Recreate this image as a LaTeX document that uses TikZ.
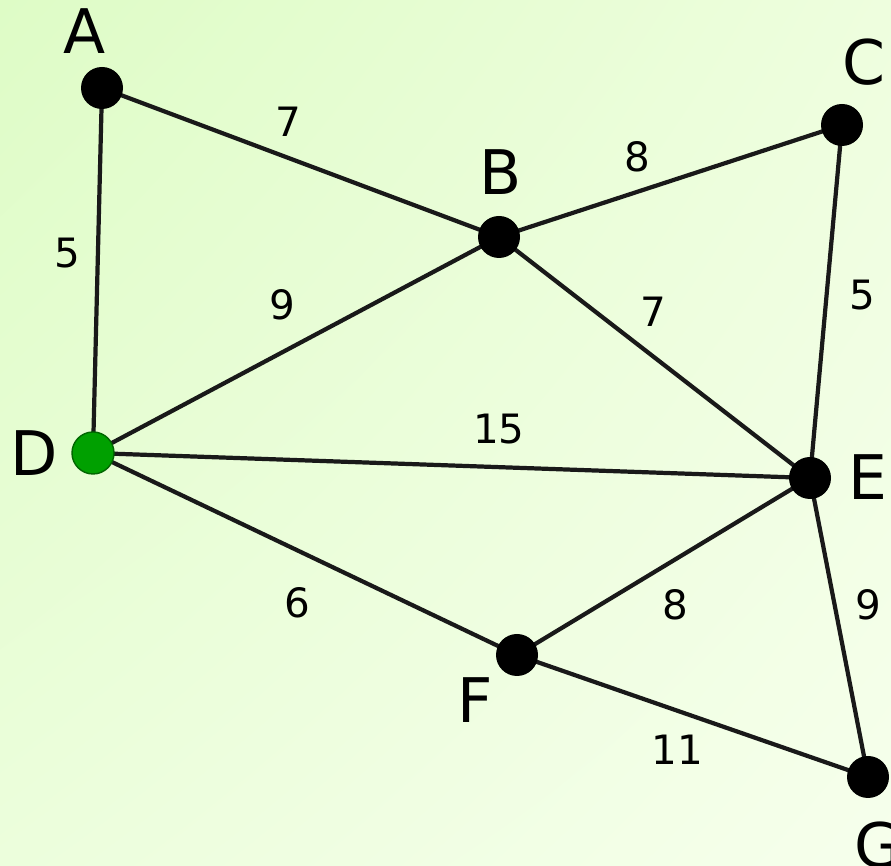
\documentclass[tikz,border=0pt]{standalone}
\usepackage{fontspec}
\setmainfont{DejaVu Sans}
\usetikzlibrary{shadings}
\definecolor{bgul}{RGB}{222,252,198}
\definecolor{bgur}{RGB}{238,254,222}
\definecolor{bgll}{RGB}{236,254,220}
\definecolor{bglr}{RGB}{246,255,236}
\definecolor{edgegray}{RGB}{25,25,25}
\definecolor{startgreen}{RGB}{0,160,0}
\tikzset{
  vertex/.style={circle,fill=black,inner sep=0pt,minimum size=0.84cm},
  start/.style={circle,fill=startgreen,draw=black!60!green,line width=0.8pt,inner sep=0pt,minimum size=0.84cm},
  vname/.style={font=\fontsize{35}{35}\selectfont},
  weight/.style={font=\fontsize{23}{23}\selectfont},
  link/.style={draw=edgegray,line width=2.4pt}
}
\begin{document}
\begin{tikzpicture}
  %Nen
  \useasboundingbox (0,0) rectangle (17.82,17.3);
  \clip (0,0) rectangle (17.82,17.3);
  \shade[upper left=bgul,upper right=bgur,lower left=bgll,lower right=bglr] (0,0) rectangle (17.82,17.3);
  %Dinh
  \coordinate (A) at (2.04,15.54);
  \coordinate (B) at (9.98,12.56);
  \coordinate (C) at (16.84,14.80);
  \coordinate (D) at (1.86,8.24);
  \coordinate (E) at (16.20,7.74);
  \coordinate (F) at (10.34,4.20);
  \coordinate (G) at (17.36,1.76);
  %Canh
  \draw[link] (A)--(B);
  \draw[link] (A)--(D);
  \draw[link] (B)--(C);
  \draw[link] (B)--(D);
  \draw[link] (B)--(E);
  \draw[link] (C)--(E);
  \draw[link] (D)--(E);
  \draw[link] (D)--(F);
  \draw[link] (E)--(F);
  \draw[link] (E)--(G);
  \draw[link] (F)--(G);
  %Nut
  \node[vertex] (nA) at (A) {};
  \node[vertex] (nB) at (B) {};
  \node[vertex] (nC) at (C) {};
  \node[start] (nD) at (D) {};
  \node[vertex] (nE) at (E) {};
  \node[vertex] (nF) at (F) {};
  \node[vertex] (nG) at (G) {};
  %Ten dinh
  \node[vname] (lA) at (1.70,16.68) {A};
  \node[vname] (lB) at (10.02,13.86) {B};
  \node[vname] (lC) at (17.28,16.06) {C};
  \node[vname] (lD) at (0.68,8.24) {D};
  \node[vname] (lE) at (17.36,7.76) {E};
  \node[vname] (lF) at (9.50,3.30) {F};
  \node[vname] (lG) at (17.56,0.40) {G};
  %Trong so
  \node[weight] (wAB) at (5.76,14.86) {7};
  \node[weight] (wBC) at (12.74,14.16) {8};
  \node[weight] (wAD) at (1.34,12.24) {5};
  \node[weight] (wBD) at (5.64,11.20) {9};
  \node[weight] (wBE) at (13.06,11.06) {7};
  \node[weight] (wCE) at (17.24,11.40) {5};
  \node[weight] (wDE) at (9.98,8.72) {15};
  \node[weight] (wDF) at (5.94,5.24) {6};
  \node[weight] (wEF) at (13.50,5.20) {8};
  \node[weight] (wEG) at (17.36,5.20) {9};
  \node[weight] (wFG) at (13.54,2.30) {11};
\end{tikzpicture}
\end{document}
